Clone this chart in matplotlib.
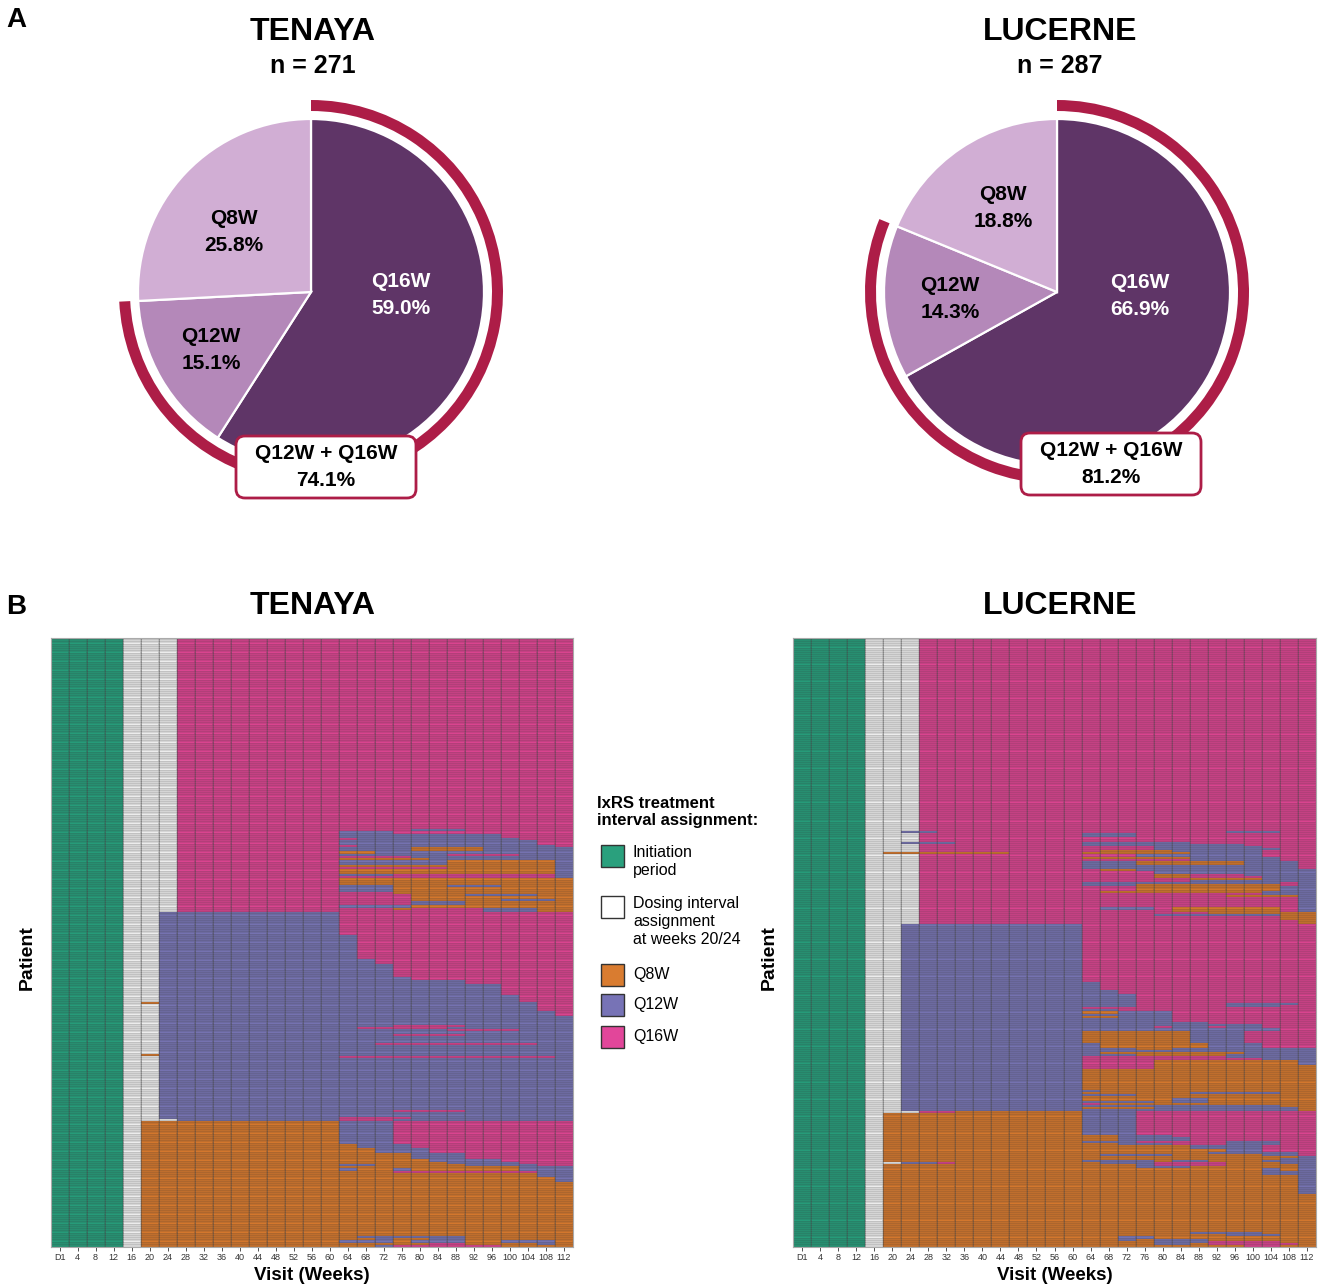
import numpy as np
import matplotlib.pyplot as plt
from matplotlib.colors import ListedColormap, BoundaryNorm
from matplotlib.patches import Wedge, FancyBboxPatch, Rectangle

plt.rcParams['font.family'] = ['Liberation Sans', 'DejaVu Sans']

# ---- panel A: share of patients on each dosing interval at week 112 ----
interval_names = ['Q16W', 'Q12W', 'Q8W']
tenaya_n = 271
lucerne_n = 287
tenaya_pct = [59.0, 15.1, 25.8]
lucerne_pct = [66.9, 14.3, 18.8]
tenaya_q12_q16 = 74.1
lucerne_q12_q16 = 81.2

# ---- panel B: interval assigned at every visit, one row per patient ----
visit_labels = ['D1', '4', '8', '12', '16', '20', '24', '28', '32', '36', '40',
                '44', '48', '52', '56', '60', '64', '68', '72', '76', '80', '84',
                '88', '92', '96', '100', '104', '108', '112']

# G initiation, W awaiting assignment, O Q8W, P Q12W, M Q16W
# each entry: (number of patients, visits D1..12 / 16 / 20 24 / 28..60 / 64..112)
tenaya_rows = [
    (85, "GGGG W WW MMMMMMMMM MMMMMMMMMMMMM"),
    (1, "GGGG W WW MMMMMMMMM MMMMPPPMMMMMM"),
    (1, "GGGG W WW MMMMMMMMM PPPMMMMMMMMMM"),
    (2, "GGGG W WW MMMMMMMMM PPPPPPPPPMMMM"),
    (1, "GGGG W WW MMMMMMMMM MPPPPPPPPPMMM"),
    (2, "GGGG W WW MMMMMMMMM PPPPPPPPPPPMM"),
    (1, "GGGG W WW MMMMMMMMM MPPPPPPPPPPPM"),
    (2, "GGGG W WW MMMMMMMMM PPPPOOOOPPPPP"),
    (1, "GGGG W WW MMMMMMMMM OOPPPPPPPPPPP"),
    (1, "GGGG W WW MMMMMMMMM PPPPPPMMMMPPP"),
    (1, "GGGG W WW MMMMMMMMM MMMMPPPPPPPPP"),
    (1, "GGGG W WW MMMMMMMMM OOOOOPPPPPPPP"),
    (2, "GGGG W WW MMMMMMMMM PPPPPPOOOOOOP"),
    (1, "GGGG W WW MMMMMMMMM OOOOOOOOOOOOP"),
    (1, "GGGG W WW MMMMMMMMM MMMMMMOOOOOOP"),
    (2, "GGGG W WW MMMMMMMMM OOOOOOOOOOOOP"),
    (1, "GGGG W WW MMMMMMMMM PPPMMMMMMMMMP"),
    (1, "GGGG W WW MMMMMMMMM MMMMMMMMMMMMP"),
    (3, "GGGG W WW MMMMMMMMM OOOOOOOOOOOOO"),
    (1, "GGGG W WW MMMMMMMMM PPPOOOPPPOOOO"),
    (2, "GGGG W WW MMMMMMMMM PPPOOOOOOOOOO"),
    (1, "GGGG W WW MMMMMMMMM MMMOOOOOOOOOO"),
    (1, "GGGG W WW MMMMMMMMM MMMMOOOPPPPOO"),
    (1, "GGGG W WW MMMMMMMMM MMMMOOOOOOOOO"),
    (1, "GGGG W WW MMMMMMMMM MMMMOOOOOPPPO"),
    (2, "GGGG W WW MMMMMMMMM MMMMPPPOOOOOO"),
    (1, "GGGG W WW MMMMMMMMM PPPPOOOOOOOOO"),
    (1, "GGGG W WW MMMMMMMMM MMMOMMMMPPPOO"),
    (1, "GGGG W WW MMMMMMMMM MMMMMMMMPPPOO"),
    (10, "GGGG W WP PPPPPPPPP MMMMMMMMMMMMM"),
    (11, "GGGG W WP PPPPPPPPP PMMMMMMMMMMMM"),
    (2, "GGGG W WP PPPPPPPPP PPMMMMMMMMMMM"),
    (6, "GGGG W WP PPPPPPPPP PPPMMMMMMMMMM"),
    (1, "GGGG W WP PPPPPPPPP PPPPMMMMMMMMM"),
    (2, "GGGG W WP PPPPPPPPP PPPPPPPMMMMMM"),
    (5, "GGGG W WP PPPPPPPPP PPPPPPPPPMMMM"),
    (3, "GGGG W WP PPPPPPPPP PPPPPPPPPPMMM"),
    (1, "GGGG W OP PPPPPPPPP PPPPPPPPPPPMM"),
    (3, "GGGG W WP PPPPPPPPP PPPPPPPPPPPMM"),
    (2, "GGGG W WP PPPPPPPPP PPPPPPPPPPPPM"),
    (4, "GGGG W WP PPPPPPPPP PPPPPPPPPPPPP"),
    (1, "GGGG W WP PPPPPPPPP PPPMMMMPPPPPP"),
    (1, "GGGG W WP PPPPPPPPP PMMMMMPPPPPPP"),
    (1, "GGGG W WP PPPPPPPPP PPPPPPMMMMPPP"),
    (1, "GGGG W WP PPPPPPPPP PPPPPPPPPPPPP"),
    (1, "GGGG W WP PPPPPPPPP PPPMMMMPPPPPP"),
    (3, "GGGG W WP PPPPPPPPP PPPPPPPPPPPPP"),
    (1, "GGGG W WP PPPPPPPPP PPMMMMMMMMMPP"),
    (4, "GGGG W WP PPPPPPPPP PPPPPPPPPPPPP"),
    (1, "GGGG W OP PPPPPPPPP PPPPPPPPPPPPP"),
    (1, "GGGG W WP PPPPPPPPP MMMMMMMMMMMMP"),
    (23, "GGGG W WP PPPPPPPPP PPPPPPPPPPPPP"),
    (1, "GGGG W WP PPPPPPPPP PPPMMMMPPPPPP"),
    (2, "GGGG W WP PPPPPPPPP PPPPPPPPPPPPP"),
    (1, "GGGG W WP PPPPPPPPP MMMMPPPPPPPPP"),
    (1, "GGGG W WW PPPPPPPPP MMMPPPPPPPPPP"),
    (10, "GGGG W OO OOOOOOOOO PPPMMMMMMMMMM"),
    (2, "GGGG W OO OOOOOOOOO OPPPMMMMMMMMM"),
    (2, "GGGG W OO OOOOOOOOO OOPPPMMMMMMMM"),
    (3, "GGGG W OO OOOOOOOOO OOOOPPPMMMMMM"),
    (1, "GGGG W OO OOOOOOOOO OOOOOPPPPMMMM"),
    (1, "GGGG W OO OOOOOOOOO OOOOOOPPPPMMM"),
    (1, "GGGG W OO OOOOOOOOO PPOOOOOPPPPMM"),
    (1, "GGGG W OO OOOOOOOOO OOOOOOOOOOPPP"),
    (1, "GGGG W OO OOOOOOOOO POOPOOOOOOPPP"),
    (1, "GGGG W OO OOOOOOOOO OOOMMMMMMMMPP"),
    (2, "GGGG W OO OOOOOOOOO OOOOOOOOOOOPP"),
    (2, "GGGG W OO OOOOOOOOO OOOOOOOOOOOOP"),
    (24, "GGGG W OO OOOOOOOOO OOOOOOOOOOOOO"),
    (1, "GGGG W OO OOOOOOOOO OPPPPPPOOOOOO"),
    (1, "GGGG W OO OOOOOOOOO OOPOOPPOOOOOO"),
    (1, "GGGG W OO OOOOOOOOO PPPOPPPOOPPPO"),
    (1, "GGGG W OO OOOOOOOOO OOOOOMMOOOOPO"),
    (1, "GGGG W OO OOOOOOOOO OOPMMMMMMOOOO"),
]

lucerne_rows = [
    (91, "GGGG W WW MMMMMMMMM MMMMMMMMMMMMM"),
    (1, "GGGG W WP PMMMMMMMM MMMMMMMMPPPMM"),
    (2, "GGGG W WW MMMMMMMMM PPPMMMMMMMMMM"),
    (2, "GGGG W WW MMMMMMMMM MMMMMMMMMMMMM"),
    (1, "GGGG W WP PPMMMMMMM PPPPPPMMMMMMM"),
    (1, "GGGG W WW MMMMMMMMM PPPPPPPPPMMMM"),
    (1, "GGGG W WW MMMMMMMMM MMMMPPPPPPMMM"),
    (1, "GGGG W WW MMMMMMMMM MMMMPPPPPPPMM"),
    (1, "GGGG W WW MMMMMMMMM MOOOOPPPPPMMM"),
    (1, "GGGG W OO OOOOOMMMM OOOOOOPPPPMMM"),
    (1, "GGGG W WW MMMMMMMMM MMMPPPPPPPMMM"),
    (1, "GGGG W WW MMMMMMMMM OOOOOOPPPPPMM"),
    (1, "GGGG W WW MMMMMMMMM MMMMMMPPPPPMM"),
    (2, "GGGG W WW MMMMMMMMM PPPOOOOOOPPPM"),
    (2, "GGGG W WW MMMMMMMMM PPPPPPPPPPPPM"),
    (1, "GGGG W WW MMMMMMMMM MOOPPPPPPPPPP"),
    (1, "GGGG W WW MMMMMMMMM MMMMPPPPPPPPP"),
    (1, "GGGG W WW MMMMMMMMM MMMMOOMMMPPPP"),
    (1, "GGGG W WW MMMMMMMMM MMMMOOMMMMPPP"),
    (1, "GGGG W WW MMMMMMMMM MMMMMMOOOOPPP"),
    (1, "GGGG W WW MMMMMMMMM MMMMMMPPPPPPP"),
    (1, "GGGG W WW MMMMMMMMM PPPPPPPPPPPMP"),
    (1, "GGGG W WW MMMMMMMMM PPPOOOOOOOOMP"),
    (2, "GGGG W WW MMMMMMMMM MMMOOOOOOOOPP"),
    (1, "GGGG W WW MMMMMMMMM MOOOOOOOOOPPP"),
    (1, "GGGG W WW MMMMMMMMM MMMMMMMMMMPPP"),
    (1, "GGGG W WW MMMMMMMMM MMMMMMMMOOOOP"),
    (5, "GGGG W WW MMMMMMMMM MMMMMMMMMMMMP"),
    (1, "GGGG W WW MMMMMMMMM MPPPMOOOOOOMP"),
    (1, "GGGG W WW MMMMMMMMM MMMMMOOOOOOMP"),
    (1, "GGGG W WW MMMMMMMMM MMMMMMMOOOOOO"),
    (1, "GGGG W WW MMMMMMMMM MMMMPPPPPPPOO"),
    (2, "GGGG W WW MMMMMMMMM MMMMMMMMMMMOO"),
    (2, "GGGG W WW MMMMMMMMM MMMMMMMMMMMMO"),
    (27, "GGGG W WP PPPPPPPPP MMMMMMMMMMMMM"),
    (4, "GGGG W WP PPPPPPPPP PMMMMMMMMMMMM"),
    (2, "GGGG W WP PPPPPPPPP PPMMMMMMMMMMM"),
    (4, "GGGG W WP PPPPPPPPP PPPMMMMMMMMMM"),
    (1, "GGGG W WP PPPPPPPPP PPPMMMMMPPPPM"),
    (1, "GGGG W WP PPPPPPPPP PPPMMMMMPPPMM"),
    (1, "GGGG W WP PPPPPPPPP MMMMMMMMMMMMM"),
    (1, "GGGG W WP PPPPPPPPP PPMMMMMMMMMMM"),
    (1, "GGGG W WP PPPPPPPPP OOPPPMMMMMMMM"),
    (1, "GGGG W WP PPPPPPPPP PPPPPMMMMMMMM"),
    (1, "GGGG W WP PPPPPPPPP OOPPPMMMMMMMM"),
    (2, "GGGG W WP PPPPPPPPP PPPPPMMMMMMMM"),
    (1, "GGGG W WP PPPPPPPPP PPPPPPPMMMMMM"),
    (1, "GGGG W WP PPPPPPPPP PPPPPPPPPPMMM"),
    (1, "GGGG W WP PPPPPPPPP PPPPMPPMPPMMM"),
    (1, "GGGG W WP PPPPPPPPP PPPPPPPPPPPMM"),
    (6, "GGGG W WP PPPPPPPPP OOOOOOPPPMMMM"),
    (2, "GGGG W WP PPPPPPPPP POOOOOOPPPMMM"),
    (1, "GGGG W WP PPPPPPPPP PPPOOPPPPPPPP"),
    (1, "GGGG W WP PPPPPPPPP PPPPPPPPPPPPP"),
    (1, "GGGG W WP PPPPPPPPP POOOOOOOOPPPP"),
    (1, "GGGG W WP PPPPPPPPP PPPOOOOOPPPPP"),
    (1, "GGGG W WP PPPPPPPPP MMMMMMMMPPPPP"),
    (1, "GGGG W WP PPPPPPPPP MMMMMMMMMMPPP"),
    (2, "GGGG W WP PPPPPPPPP MMMMOOOOOOOOP"),
    (2, "GGGG W WP PPPPPPPPP MMMMOOOOOOOOO"),
    (10, "GGGG W WP PPPPPPPPP OOOOOOOOOOOOO"),
    (1, "GGGG W WP PPPPPPPPP POOOOOOOOOOOO"),
    (1, "GGGG W WP PPPPPPPPP OOOOOOPPPPPOO"),
    (1, "GGGG W WP PPPPPPPPP PPPOOOOOOOOOO"),
    (1, "GGGG W WP PPPPPPPPP OOOOOOOOOOOOO"),
    (1, "GGGG W WP PPPPPPPPP OOOOOPPOOOOOO"),
    (1, "GGGG W WP PPPPPPPPP PPPPOPPOOOOOO"),
    (1, "GGGG W WP PPPPPPPPP MOOOOOOOOOOOO"),
    (1, "GGGG W WP PPPPPPPPP PPPPPPPPPPPOO"),
    (1, "GGGG W WP PPPPPPPPP OOOOPPPPPPPPO"),
    (1, "GGGG W WP PPPPPPPPP PPPPPPPPPPPPO"),
    (1, "GGGG W WW MMOOOOOOO PPPMMMMMMMMMM"),
    (10, "GGGG W OO OOOOOOOOO PPPMMMMMMMMMM"),
    (1, "GGGG W OO OOOOOOOOO OOPPPMMMMMMMM"),
    (2, "GGGG W OO OOOOOOOOO OOPPPPMMMMMMM"),
    (1, "GGGG W OO OOOOOOOOO PPPMMMMMPPPMM"),
    (1, "GGGG W OO OOOOOOOOO OOPPPMMMPPPMM"),
    (2, "GGGG W OO OOOOOOOOO OOOOOOPPPPMMM"),
    (1, "GGGG W OO OOOOOOOOO OOOOOOOOPPMMM"),
    (1, "GGGG W OO OOOOOOOOO OOOOOOOPPPPPM"),
    (1, "GGGG W OO OOOOOOOOO OPPPPOOOOOPPM"),
    (1, "GGGG W OO OOOOOOOOO OOOOOOOOOOOOP"),
    (1, "GGGG W OO OOOOOOOOO OOOOOOOOOOOPP"),
    (1, "GGGG W OO OOOOOOOOO PPPPOPPOOOPPP"),
    (1, "GGGG W WP PMOOOOOOO OPPPMMMMOOOPP"),
    (1, "GGGG W OO OOOOOOOOO OOOPMMMMOOOOP"),
    (1, "GGGG W OO OOOOOOOOO OOOPPPOOOOOOP"),
    (1, "GGGG W OO OOOOOOOOO OOOOOOOOOOPOP"),
    (2, "GGGG W OO OOOOOOOOO OOOOOOOOOOPPP"),
    (9, "GGGG W OO OOOOOOOOO OOOOOOOOOOOOP"),
    (18, "GGGG W OO OOOOOOOOO OOOOOOOOOOOOO"),
    (1, "GGGG W OO OOOOOOOOO OOOOOOPPPPOOO"),
    (1, "GGGG W OO OOOOOOOOO OOOOOOOOPPPOO"),
    (1, "GGGG W OO OOOOOOOOO OOPPOOOOOOOOO"),
    (1, "GGGG W OO OOOOOOOOO OOPOPPPOOOOOO"),
    (1, "GGGG W OO OOOOOOOOO OOOOPPPMMMMOO"),
    (1, "GGGG W OO OOOOOOOOO OOOOPPOMMMMMO"),
    (1, "GGGG W OO OOOOOOOOO OOOOOOOOOMMOO"),
]

state_codes = {'G': 0, 'W': 1, 'O': 2, 'P': 3, 'M': 4}
state_colors = ['#269b79', '#ececec', '#d3772d', '#7572b0', '#d9448f']
legend_colors = ['#2aa07d', '#ffffff', '#d97c30', '#7773b6', '#e2469a']
legend_labels = ['Initiation\nperiod', 'Dosing interval\nassignment\nat weeks 20/24',
                 'Q8W', 'Q12W', 'Q16W']

pie_colors = ['#5f3567', '#b488b9', '#d1aed4']
arc_red = '#ad1d47'

W, H = 1325, 1286
fig = plt.figure(figsize=(W / 100, H / 100), dpi=100)


def px_axes(x0, y0, x1, y1):
    return fig.add_axes([x0 / W, 1 - y1 / H, (x1 - x0) / W, (y1 - y0) / H])


# overlay in pixel units for titles, axis names and legend
ov = px_axes(0, 0, W, H)
ov.set_xlim(0, W)
ov.set_ylim(H, 0)
ov.axis('off')


def draw_pie(cx, cy, pct, combined, label_xy, box_xy):
    ax = px_axes(cx - 230, cy - 230, cx + 230, cy + 230)
    ax.pie(pct, radius=173, startangle=90, counterclock=False, colors=pie_colors,
           wedgeprops=dict(edgecolor='white', linewidth=1.6))
    ax.set_xlim(-230, 230)
    ax.set_ylim(-230, 230)
    ax.set_aspect('equal')
    ax.axis('off')
    # arc around Q12W + Q16W
    start = 90 + 3.6 * pct[2]
    ax.add_patch(Wedge((0, 0), 192, start, 450, width=11, facecolor=arc_red,
                       edgecolor='none'))
    for name, val, (tx, ty), col in zip(interval_names, pct, label_xy,
                                        ['white', 'black', 'black']):
        ax.text(tx, ty, f'{name}\n{val:.1f}%', ha='center', va='center',
                fontsize=15, fontweight='bold', color=col, linespacing=1.5)
    bx, by = box_xy
    ax.add_patch(FancyBboxPatch((bx - 90, by - 31), 180, 62,
                                boxstyle='round,pad=0,rounding_size=9',
                                facecolor='white', edgecolor=arc_red,
                                linewidth=2, zorder=5))
    ax.text(bx, by, f'Q12W + Q16W\n{combined:.1f}%', ha='center', va='center',
            fontsize=15, fontweight='bold', zorder=6, linespacing=1.5)


draw_pie(311, 292, tenaya_pct, tenaya_q12_q16,
         [(90, -3), (-100, -58), (-77, 60)], (15, -175))
draw_pie(1057, 292, lucerne_pct, lucerne_q12_q16,
         [(83, -4), (-107, -7), (-54, 84)], (54, -172))

cmap = ListedColormap(state_colors)
norm = BoundaryNorm(np.arange(-0.5, 5.5, 1), cmap.N)


def draw_heatmap(x0, x1, blocks):
    grid = []
    for count, pattern in blocks:
        cells = [state_codes[c] for c in pattern.replace(' ', '')]
        grid += [cells] * count
    grid = np.array(grid)
    n, m = grid.shape
    ax = px_axes(x0, 638, x1, 1247)
    ax.pcolormesh(np.arange(m + 1), np.arange(n + 1), grid, cmap=cmap, norm=norm,
                  edgecolors=(0.2, 0.2, 0.2, 0.12), linewidth=0.15)
    for x in range(1, m):
        ax.axvline(x, color='#4a4a4a', lw=0.6, alpha=0.5)
    ax.set_xlim(0, m)
    ax.set_ylim(n, 0)
    ax.set_xticks(np.arange(m) + 0.5, visit_labels, fontsize=6.5)
    ax.set_yticks([])
    ax.tick_params(axis='x', length=3, width=0.6, pad=1.5, colors='#333333')
    for s in ax.spines.values():
        s.set_color('#aaaaaa')
        s.set_linewidth(0.8)
    return ax


draw_heatmap(50.5, 573, tenaya_rows)
draw_heatmap(793, 1316, lucerne_rows)

# panel letters and titles
ov.text(16, 20, 'A', fontsize=20, fontweight='bold', ha='center', va='center')
ov.text(16, 607, 'B', fontsize=20, fontweight='bold', ha='center', va='center')
for cx, name, n in [(313, 'TENAYA', tenaya_n), (1060, 'LUCERNE', lucerne_n)]:
    ov.text(cx, 32, name, fontsize=23, fontweight='bold', ha='center', va='center')
    ov.text(cx, 66, f'n = {n}', fontsize=18, fontweight='bold', ha='center', va='center')
    ov.text(cx, 606, name, fontsize=23, fontweight='bold', ha='center', va='center')
for cx, px in [(312, 27), (1055, 769)]:
    ov.text(cx, 1275, 'Visit (Weeks)', fontsize=13.5, fontweight='bold',
            ha='center', va='center')
    ov.text(px, 958, 'Patient', fontsize=14, fontweight='bold', rotation=90,
            ha='center', va='center')

# legend
ov.text(597, 812, 'IxRS treatment\ninterval assignment:', fontsize=12,
        fontweight='bold', ha='left', va='center', linespacing=1.2)
legend_y = [856, 907, 975, 1005, 1037]
for y, col, lab in zip(legend_y, legend_colors, legend_labels):
    ov.add_patch(Rectangle((601, y - 11), 23, 22, facecolor=col,
                           edgecolor='#333333', linewidth=1))
    multi = '\n' in lab
    ov.text(633, y - 11 if multi else y, lab, fontsize=11.5,
            ha='left', va='top' if multi else 'center', linespacing=1.25)

fig.savefig('out.png', dpi=100)
